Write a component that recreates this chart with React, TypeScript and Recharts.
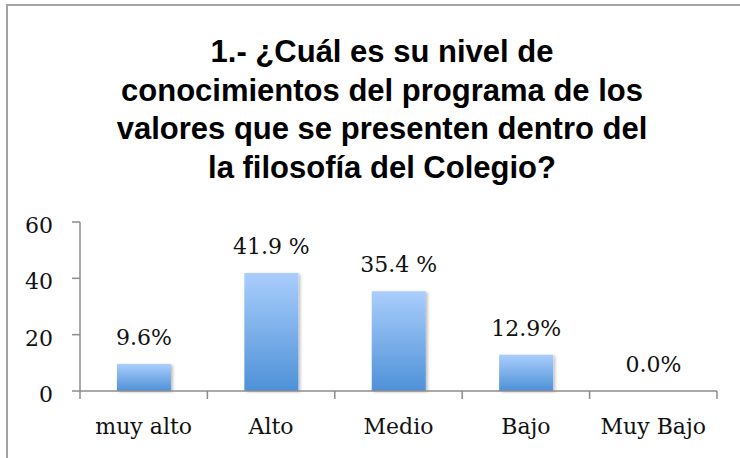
import { BarChart, Bar, XAxis, YAxis, LabelList, Cell } from "recharts";

const categories = ["muy alto", "Alto", "Medio", "Bajo", "Muy Bajo"];
const values = [9.6, 41.9, 35.4, 12.9, 0];
const valueLabels = ["9.6%", "41.9 %", "35.4 %", "12.9%", "0.0%"];
const yTicks = [0, 20, 40, 60];
const titleLines = [
  "1.- ¿Cuál es su nivel de",
  "conocimientos del programa de los",
  "valores que se presenten dentro del",
  "la filosofía del Colegio?",
];

const data = categories.map((name, i) => ({ name, value: values[i], label: valueLabels[i] }));

const W = 740;
const H = 458;
const Y_W = 80;
const M_RIGHT = 23;
const BAND = (W - Y_W - M_RIGHT) / categories.length;
const SERIF = "'DejaVu Serif', serif";
const AXIS = "#8c8c8c";

// category ticks sit on the band edges, labels in the middle
function XTick(props: { x?: number; y?: number; index?: number; payload?: { value: string } }) {
  const x = Number(props.x);
  const y = Number(props.y);
  const half = BAND / 2;
  const last = props.index === categories.length - 1;
  return (
    <g>
      <line x1={x - half} x2={x - half} y1={y} y2={y + 8} stroke={AXIS} strokeWidth={1.5} />
      {last && <line x1={x + half} x2={x + half} y1={y} y2={y + 8} stroke={AXIS} strokeWidth={1.5} />}
      <text x={x} y={y + 43} textAnchor="middle" fontFamily={SERIF} fontSize={22} fill="#111">
        {props.payload?.value}
      </text>
    </g>
  );
}

function YTick(props: { x?: number; y?: number; payload?: { value: number } }) {
  const x = Number(props.x);
  const y = Number(props.y);
  return (
    <g>
      <line x1={x - 8} x2={x} y1={y} y2={y} stroke={AXIS} strokeWidth={1.5} />
      <text x={x - 27} y={y + 11} textAnchor="end" fontFamily={SERIF} fontSize={22} fill="#111">
        {props.payload?.value}
      </text>
    </g>
  );
}

function ValueLabel(props: { x?: number | string; y?: number | string; width?: number | string; index?: number }) {
  const i = props.index ?? 0;
  const cx = Number(props.x) + Number(props.width) / 2;
  return (
    <text x={cx} y={Number(props.y) - 19} textAnchor="middle" fontFamily={SERIF} fontSize={22} fill="#111">
      {valueLabels[i]}
    </text>
  );
}

export default function App() {
  return (
    <div style={{ position: "absolute", left: 0, top: 0, width: W, height: H, overflow: "hidden", background: "#fff" }}>
      <div
        style={{
          position: "absolute",
          left: 6,
          top: 4,
          width: 800,
          height: 520,
          border: "2px solid #a3a3a3",
          boxSizing: "border-box",
        }}
      />
      <svg width={W} height={200} style={{ position: "absolute", left: 0, top: 0 }}>
        {titleLines.map((line, i) => (
          <text
            key={i}
            x={382}
            y={62 + i * 38.5}
            textAnchor="middle"
            fontFamily="'Liberation Sans', Arial, sans-serif"
            fontWeight="bold"
            fontSize={31}
            fill="#000"
          >
            {line}
          </text>
        ))}
      </svg>
      <div style={{ position: "absolute", left: 0, top: 0 }}>
        <BarChart width={W} height={H} data={data} margin={{ top: 222, right: M_RIGHT, bottom: 0, left: 0 }} barCategoryGap="29%">
          <defs>
            <linearGradient id="barFill" x1="0" y1="0" x2="0" y2="1">
              <stop offset="0%" stopColor="#aacefc" />
              <stop offset="100%" stopColor="#4e91d8" />
            </linearGradient>
            <filter id="barShadow" x="-20%" y="-20%" width="140%" height="140%">
              <feDropShadow dx="2" dy="1" stdDeviation="1.5" floodColor="#000" floodOpacity="0.25" />
            </filter>
          </defs>
          <XAxis
            dataKey="name"
            height={67}
            tickSize={0}
            tickMargin={0}
            tickLine={false}
            axisLine={{ stroke: AXIS, strokeWidth: 1.5 }}
            tick={<XTick />}
            interval={0}
          />
          <YAxis
            width={Y_W}
            domain={[0, 60]}
            ticks={yTicks}
            tickSize={0}
            tickMargin={0}
            tickLine={false}
            axisLine={{ stroke: AXIS, strokeWidth: 1.5 }}
            tick={<YTick />}
          />
          <Bar dataKey="value" minPointSize={0.01} isAnimationActive={false}>
            {values.map((v, i) => (
              <Cell key={i} fill={v === 0 ? "transparent" : "url(#barFill)"} filter={v === 0 ? undefined : "url(#barShadow)"} />
            ))}
            <LabelList dataKey="label" content={<ValueLabel />} />
          </Bar>
        </BarChart>
      </div>
    </div>
  );
}
